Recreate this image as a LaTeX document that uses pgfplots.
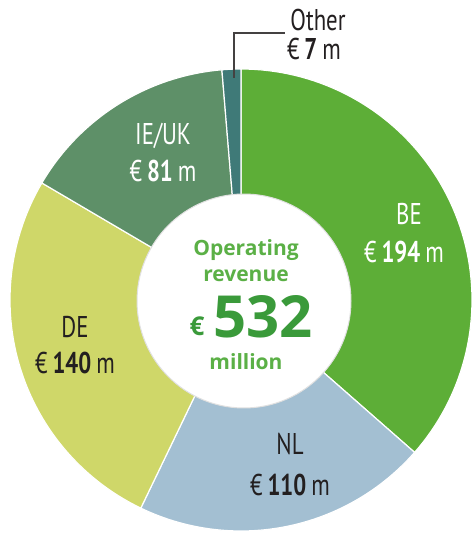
\documentclass[border=0pt]{standalone}
\usepackage{pgfplots}
\pgfplotsset{compat=1.18}
\usepackage{fontspec}
\setmainfont{PT Sans}
\newfontfamily\condfont[FakeStretch=0.76]{PT Sans}
\newfontfamily\centerfont{Open Sans}
\definecolor{cBE}{HTML}{5DAE37}
\definecolor{cNL}{HTML}{A3BFD2}
\definecolor{cDE}{HTML}{CFD769}
\definecolor{cUK}{HTML}{5E9068}
\definecolor{cOT}{HTML}{3F7A78}
\definecolor{txt}{HTML}{231F20}
\definecolor{gLight}{HTML}{5BB046}
\definecolor{gDark}{HTML}{3A9A3A}
% operating revenue by region, EUR million
\def\vBE{194}
\def\vNL{110}
\def\vDE{140}
\def\vUK{81}
\def\vOT{7}
\def\cx{241}
\def\cy{236}
\def\R{231}
\def\ri{107}
\begin{document}
\begin{tikzpicture}
\pgfmathsetmacro{\tot}{\vBE+\vNL+\vDE+\vUK+\vOT}
\pgfmathsetmacro{\aA}{90}
\pgfmathsetmacro{\aB}{\aA-\vBE/\tot*360}
\pgfmathsetmacro{\aC}{\aB-\vNL/\tot*360}
\pgfmathsetmacro{\aD}{\aC-\vDE/\tot*360}
\pgfmathsetmacro{\aE}{\aD-\vUK/\tot*360}
\pgfmathsetmacro{\aF}{\aE-\vOT/\tot*360}
\begin{axis}[
  width=475pt, height=536pt, scale only axis,
  xmin=0, xmax=475, ymin=0, ymax=536,
  enlargelimits=false,
  hide axis, clip=false,
]
\coordinate (BL) at (rel axis cs:0,0);
\coordinate (TR) at (rel axis cs:1,1);
\addplot[fill=cBE, draw=white, line width=1.2pt, domain=\aB:\aA, samples=80]
  ({\cx+\R*cos(x)},{\cy+\R*sin(x)}) -- (axis cs:\cx,\cy) -- cycle;
\addplot[fill=cNL, draw=white, line width=1.2pt, domain=\aC:\aB, samples=60]
  ({\cx+\R*cos(x)},{\cy+\R*sin(x)}) -- (axis cs:\cx,\cy) -- cycle;
\addplot[fill=cDE, draw=white, line width=1.2pt, domain=\aD:\aC, samples=60]
  ({\cx+\R*cos(x)},{\cy+\R*sin(x)}) -- (axis cs:\cx,\cy) -- cycle;
\addplot[fill=cUK, draw=white, line width=1.2pt, domain=\aE:\aD, samples=40]
  ({\cx+\R*cos(x)},{\cy+\R*sin(x)}) -- (axis cs:\cx,\cy) -- cycle;
\addplot[fill=cOT, draw=white, line width=1.2pt, domain=\aF:\aE, samples=8]
  ({\cx+\R*cos(x)},{\cy+\R*sin(x)}) -- (axis cs:\cx,\cy) -- cycle;
% hole
\addplot[fill=white, draw=black!12, line width=1pt, domain=0:360, samples=120]
  ({244+\ri*cos(x)},{235+\ri*sin(x)}) -- cycle;
% leader for Other
\addplot[draw=txt!85, line width=1.3pt] coordinates {(234,458) (234,503) (285,503)};
% labels
\node[font=\condfont\fontsize{30}{34}\selectfont, text=white] at (axis cs:409,322) {BE};
\node[font=\condfont\fontsize{30}{34}\selectfont, text=white] at (axis cs:404,284) {€\,\textbf{194}\,m};
\node[font=\condfont\fontsize{30}{34}\selectfont, text=txt] at (axis cs:290,92) {NL};
\node[font=\condfont\fontsize{30}{34}\selectfont, text=txt] at (axis cs:290,51) {€\,\textbf{110}\,m};
\node[font=\condfont\fontsize{30}{34}\selectfont, text=txt] at (axis cs:75,209) {DE};
\node[font=\condfont\fontsize{30}{34}\selectfont, text=txt] at (axis cs:75,173) {€\,\textbf{140}\,m};
\node[font=\condfont\fontsize{30}{34}\selectfont, text=white] at (axis cs:163,400) {IE/UK};
\node[font=\condfont\fontsize{30}{34}\selectfont, text=white] at (axis cs:163,365) {€\,\textbf{81}\,m};
\node[font=\condfont\fontsize{30}{34}\selectfont, text=txt] at (axis cs:318,516) {Other};
\node[font=\condfont\fontsize{30}{34}\selectfont, text=txt] at (axis cs:314,487) {€\,\textbf{7}\,m};
% centre
\node[font=\centerfont\bfseries\fontsize{21}{24}\selectfont, text=gLight] at (axis cs:246,286) {Operating};
\node[font=\centerfont\bfseries\fontsize{21}{24}\selectfont, text=gLight] at (axis cs:246,260) {revenue};
\node[font=\centerfont\bfseries\fontsize{58}{60}\selectfont, text=gDark, anchor=base, inner sep=0pt] at (axis cs:263,198) {532};
\node[font=\centerfont\bfseries\fontsize{26}{28}\selectfont, text=gDark, anchor=base, inner sep=0pt] at (axis cs:197,200) {€};
\node[font=\centerfont\bfseries\fontsize{21}{24}\selectfont, text=gLight, anchor=base, inner sep=0pt] at (axis cs:246,166) {million};
\end{axis}
\pgfresetboundingbox
\path (BL) rectangle (TR);
\end{tikzpicture}%
\end{document}
